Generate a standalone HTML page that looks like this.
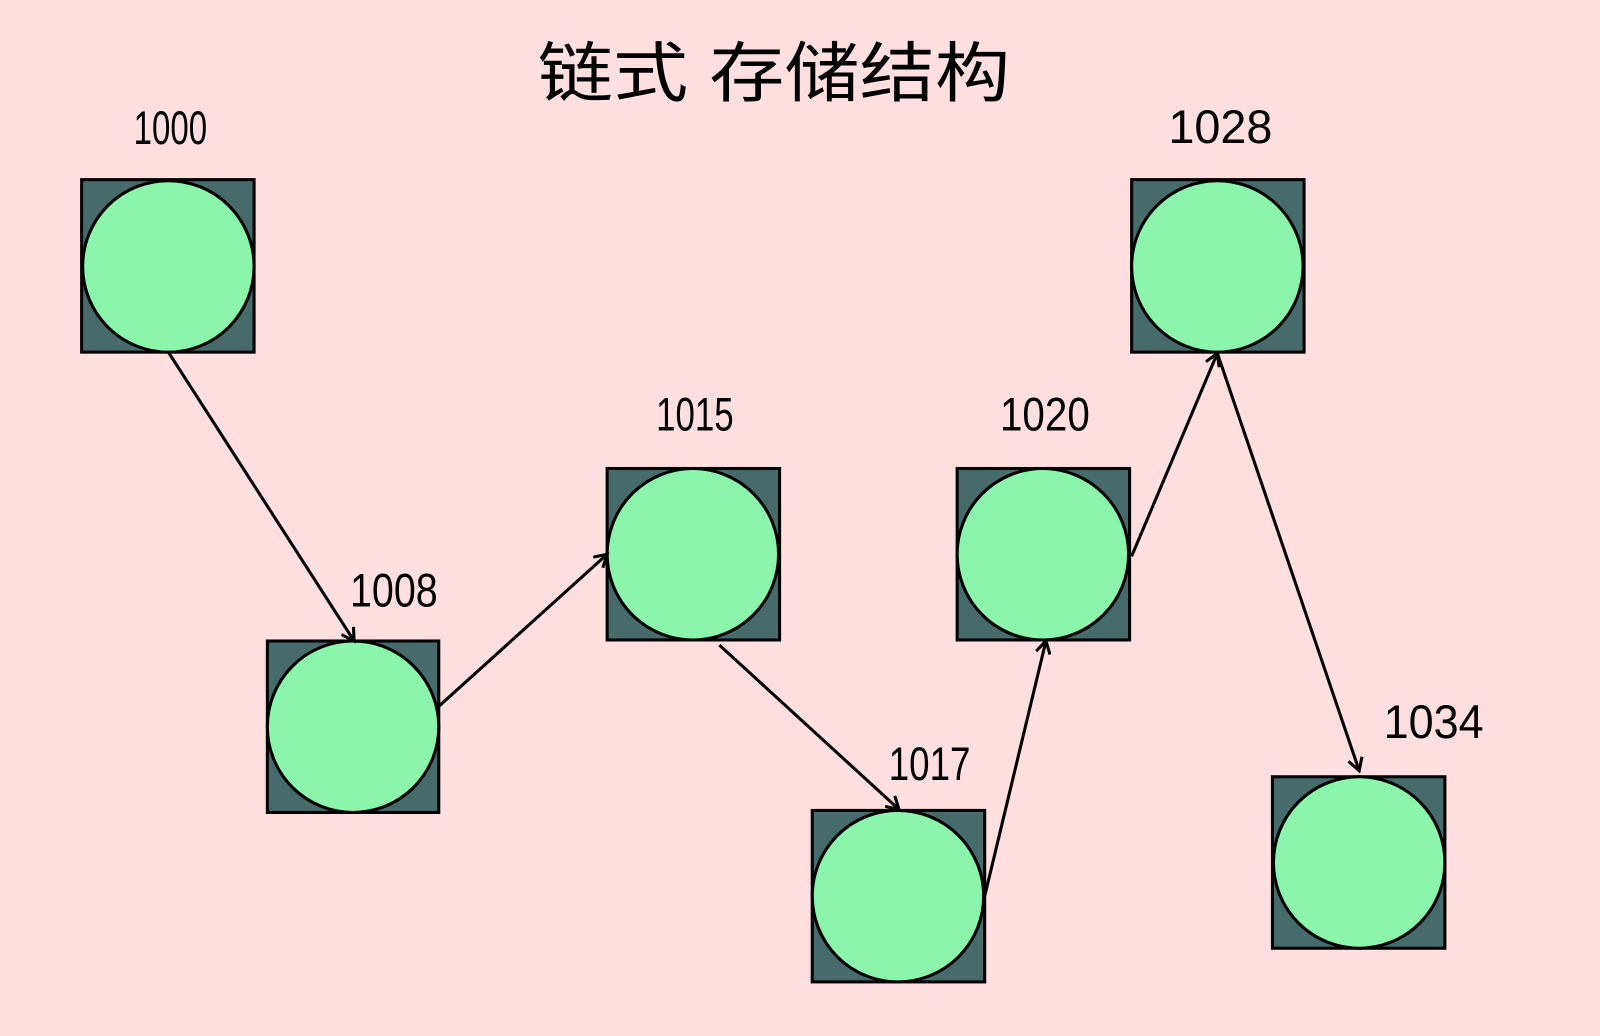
<!DOCTYPE html>
<html><head><meta charset="utf-8"><style>
html,body{margin:0;padding:0;background:#ffdfe0;}
svg{display:block;}
text{font-family:"Liberation Sans","Noto Sans CJK SC",sans-serif;fill:#000;}
</style></head><body>
<svg width="1600" height="1036" viewBox="0 0 1568 1015" preserveAspectRatio="none" xmlns="http://www.w3.org/2000/svg">
<rect width="1568" height="1015" fill="#ffdfe0"/>
<defs><marker id="a" markerWidth="16" markerHeight="16" refX="13" refY="8" orient="auto" markerUnits="userSpaceOnUse"><path d="M1,1 L13,8 L1,15" fill="none" stroke="#000" stroke-width="3"/></marker></defs>
<text x="527" y="94" font-size="64" textLength="463" lengthAdjust="spacingAndGlyphs">链式 存储结构</text>
<g stroke="#000" stroke-width="3">
<rect x="80" y="176" width="169" height="169" fill="#476b6b"/><circle cx="165" cy="261" r="84" fill="#8cf5ac"/>
<rect x="262" y="628" width="168" height="168" fill="#476b6b"/><circle cx="346" cy="712" r="84" fill="#8cf5ac"/>
<rect x="595" y="459" width="169" height="168" fill="#476b6b"/><circle cx="679" cy="543" r="84" fill="#8cf5ac"/>
<rect x="796" y="794" width="169" height="168" fill="#476b6b"/><circle cx="880" cy="878" r="84" fill="#8cf5ac"/>
<rect x="938" y="459" width="169" height="168" fill="#476b6b"/><circle cx="1022" cy="543" r="84" fill="#8cf5ac"/>
<rect x="1109" y="176" width="169" height="169" fill="#476b6b"/><circle cx="1193" cy="261" r="84" fill="#8cf5ac"/>
<rect x="1247" y="761" width="169" height="168" fill="#476b6b"/><circle cx="1332" cy="845" r="84" fill="#8cf5ac"/>
</g>
<g stroke="#000" stroke-width="3" fill="none" marker-end="url(#a)">
<line x1="165" y1="345" x2="347" y2="628"/>
<line x1="430" y1="692" x2="595" y2="543"/>
<line x1="705" y1="632" x2="881" y2="793"/>
<line x1="965" y1="878" x2="1025" y2="628"/>
<line x1="1109" y1="545" x2="1193" y2="346"/>
<line x1="1193" y1="346" x2="1332" y2="755"/>
</g>
<g font-size="46" text-anchor="middle">
<text x="167" y="141" textLength="72" lengthAdjust="spacingAndGlyphs">1000</text>
<text x="386" y="594" textLength="86" lengthAdjust="spacingAndGlyphs">1008</text>
<text x="681" y="422" textLength="76" lengthAdjust="spacingAndGlyphs">1015</text>
<text x="911" y="764" textLength="80" lengthAdjust="spacingAndGlyphs">1017</text>
<text x="1024" y="422" textLength="88" lengthAdjust="spacingAndGlyphs">1020</text>
<text x="1196" y="140" textLength="102" lengthAdjust="spacingAndGlyphs">1028</text>
<text x="1405" y="723" textLength="98" lengthAdjust="spacingAndGlyphs">1034</text>
</g>
</svg>
</body></html>
